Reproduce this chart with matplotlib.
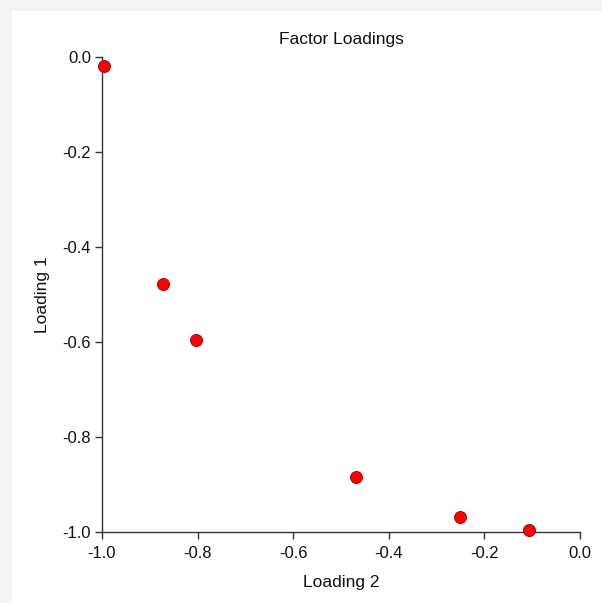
import matplotlib
matplotlib.use("Agg")
import matplotlib.pyplot as plt
from matplotlib.patches import Rectangle

plt.rcParams['font.family'] = ['Liberation Sans', 'DejaVu Sans']

# factor loadings
loading2 = [-0.996, -0.872, -0.803, -0.468, -0.251, -0.106]
loading1 = [-0.020, -0.479, -0.595, -0.884, -0.968, -0.995]
xticks = [-1.0, -0.8, -0.6, -0.4, -0.2, 0.0]
yticks = [0.0, -0.2, -0.4, -0.6, -0.8, -1.0]

W, H = 602, 603
fig = plt.figure(figsize=(W/100, H/100), dpi=100, facecolor='#f4f4f4')
# white panel (gray strip left and top)
fig.patches.append(Rectangle((12/W, 0), 1, 1 - 11/H, transform=fig.transFigure,
                             facecolor='white', edgecolor='none', zorder=-10))

ax = fig.add_axes([102/W, 1 - 532/H, (580-102)/W, (532-56.7)/H])
ax.set_zorder(5)
ax.set_facecolor('none')
ax.scatter(loading2, loading1, s=75, color='red', edgecolors='#900000',
           linewidths=0.6, zorder=3, clip_on=False)

ax.set_xlim(-1.0, 0.0)
ax.set_ylim(-1.0, 0.0)
ax.set_xticks(xticks)
ax.set_yticks(yticks)
ax.set_xticklabels(['%.1f' % v for v in xticks])
ax.set_yticklabels(['%.1f' % v for v in yticks])

for side in ['top', 'right']:
    ax.spines[side].set_visible(False)
for side in ['left', 'bottom']:
    ax.spines[side].set_color('#333333')
    ax.spines[side].set_linewidth(1.0)
ax.tick_params(direction='out', length=5, width=1, color='#333333',
               labelsize=12, labelcolor='#111111')
ax.tick_params(axis='x', pad=5)
ax.tick_params(axis='y', pad=3)

ax.set_title('Factor Loadings', fontsize=12.5, pad=9, color='#111111')
ax.set_xlabel('Loading 2', fontsize=12.5, labelpad=10, color='#111111')
ax.set_ylabel('Loading 1', fontsize=12.5, labelpad=9, color='#111111')

fig.savefig('out.png', dpi=100, facecolor=fig.get_facecolor())
